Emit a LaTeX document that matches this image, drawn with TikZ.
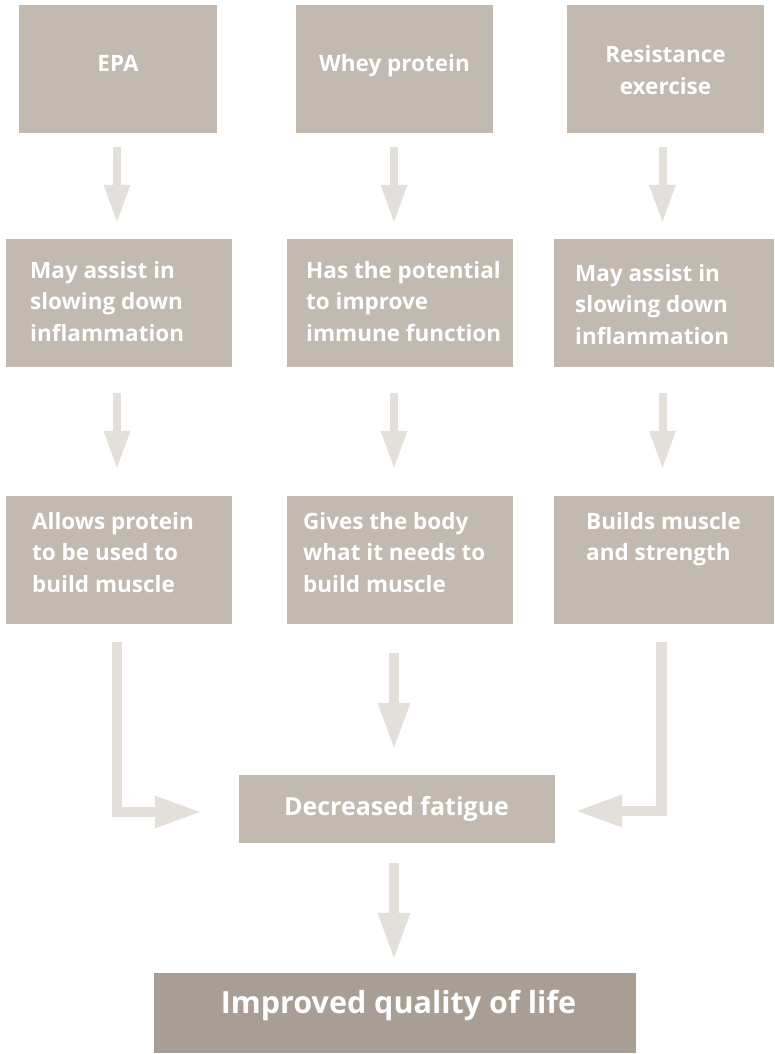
\documentclass[tikz,border=0pt]{standalone}
\usepackage{fontspec}
\setmainfont{Open Sans}
\usetikzlibrary{arrows.meta}
\definecolor{boxc}{HTML}{C2B9B0}
\definecolor{impc}{HTML}{A89E94}
\definecolor{arrc}{HTML}{E3E0DB}
\newcommand{\lleft}[1]{\begin{tabular}[t]{@{}l@{}}#1\end{tabular}}
\newcommand{\lcent}[1]{\begin{tabular}[t]{@{}c@{}}#1\end{tabular}}
\begin{document}
\begin{tikzpicture}[x=1pt,y=-1pt,
  box/.style={rectangle,fill=boxc,draw=none,inner sep=0pt},
  txt/.style={inner sep=0pt,text=white,font=\fontsize{22.5}{31.5}\selectfont\bfseries},
  arrs/.style={draw=arrc,line width=8pt,-{Triangle[length=37pt,width=27pt,line width=0pt]}},
  arrb/.style={draw=arrc,line width=10.5pt,line join=miter,-{Triangle[length=45pt,width=33pt,line width=0pt]}}]
\path[use as bounding box] (0,0) rectangle (775,1054);
% column coordinates
\coordinate (ca) at (117,0);
\coordinate (cb) at (394,0);
\coordinate (cc) at (662.5,0);
\coordinate (cd) at (661.5,0);
% boxes
\node[box,minimum width=198pt,minimum height=128pt] (r1a) at (118,69) {};
\node[box,minimum width=197pt,minimum height=128pt] (r1b) at (394.5,69) {};
\node[box,minimum width=197pt,minimum height=128pt] (r1c) at (665.5,69) {};
\node[box,minimum width=226pt,minimum height=128pt] (r2a) at (119,303) {};
\node[box,minimum width=226pt,minimum height=128pt] (r2b) at (400,303) {};
\node[box,minimum width=220pt,minimum height=128pt] (r2c) at (664,303) {};
\node[box,minimum width=226pt,minimum height=128pt] (r3a) at (119,560) {};
\node[box,minimum width=226pt,minimum height=128pt] (r3b) at (400,560) {};
\node[box,minimum width=220pt,minimum height=128pt] (r3c) at (664,560) {};
\node[box,minimum width=316pt,minimum height=68pt] (fat) at (397,809) {};
\node[box,fill=impc,minimum width=482pt,minimum height=80pt] (imp) at (395,1013) {};
% texts
\node[txt,anchor=base] (t1a) at (118,72) {EPA};
\node[txt,anchor=base] (t1b) at (394.5,72) {Whey protein};
\node[txt,anchor=base] (t1c) at (665.5,63) {\lcent{Resistance\\exercise}};
\node[txt,anchor=base west] (t2a) at (30,278) {\lleft{May assist in\\slowing down\\inflammation}};
\node[txt,anchor=base west] (t2b) at (306,278) {\lleft{Has the potential\\to improve\\immune function}};
\node[txt,anchor=base west] (t2c) at (575,281) {\lleft{May assist in\\slowing down\\inflammation}};
\node[txt,anchor=base west] (t3a) at (32,529) {\lleft{Allows protein\\to be used to\\build muscle}};
\node[txt,anchor=base west] (t3b) at (303,529) {\lleft{Gives the body\\what it needs to\\build muscle}};
\node[txt,anchor=base west] (t3c) at (586,529) {\lleft{Builds muscle\\and strength}};
\node[txt,anchor=base,font=\fontsize{25}{30}\selectfont\bfseries] (tf) at (396.5,815) {Decreased fatigue};
\node[txt,anchor=base,font=\fontsize{30.5}{36}\selectfont\bfseries] (ti) at (398.5,1013) {Improved quality of life};
% arrows row 1 -> row 2
\draw[arrs,shorten >=17pt] ([yshift=-14pt]ca |- r1a.south) -- (ca |- r2a.north);
\draw[arrs,shorten >=17pt] ([yshift=-14pt]cb |- r1b.south) -- (cb |- r2b.north);
\draw[arrs,shorten >=17pt] ([yshift=-14pt]cc |- r1c.south) -- (cc |- r2c.north);
% arrows row 2 -> row 3
\draw[arrs,shorten >=28pt] ([yshift=-26pt]ca |- r2a.south) -- (ca |- r3a.north);
\draw[arrs,shorten >=28pt] ([yshift=-26pt]cb |- r2b.south) -- (cb |- r3b.north);
\draw[arrs,shorten >=28pt] ([yshift=-26pt]cc |- r2c.south) -- (cc |- r3c.north);
% arrows row 3 -> fatigue
\draw[arrb,shorten >=39pt] ([yshift=-18pt]ca |- r3a.south) |- ([yshift=-3pt]fat.west);
\draw[arrb,shorten >=27pt] ([yshift=-29pt]cb |- r3b.south) -- (cb |- fat.north);
\draw[arrb,shorten >=22pt] ([yshift=-18pt]cd |- r3c.south) |- ([yshift=-2pt]fat.east);
% fatigue -> improved
\draw[arrb,shorten >=15pt] ([yshift=-20pt]cb |- fat.south) -- (cb |- imp.north);
\end{tikzpicture}
\end{document}
